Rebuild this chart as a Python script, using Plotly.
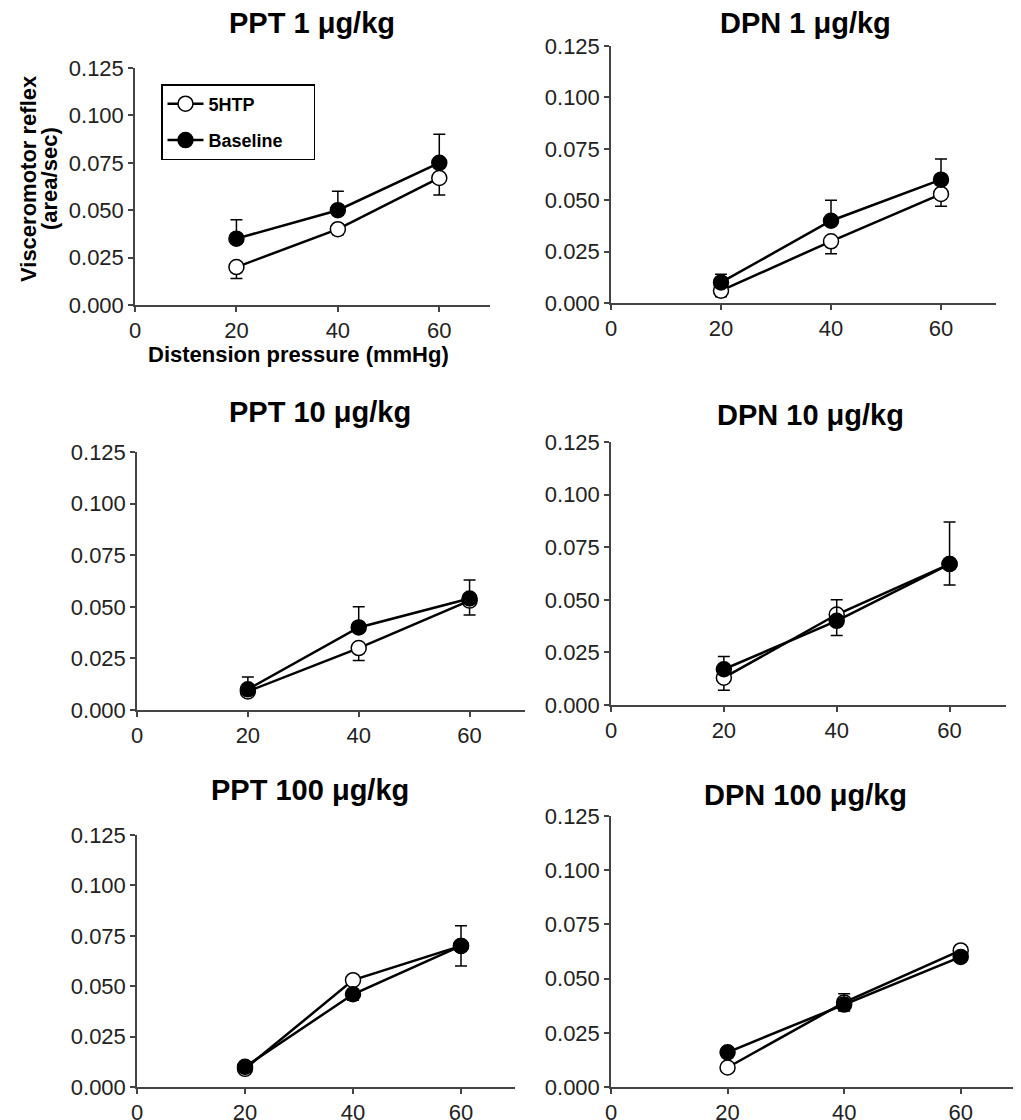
import plotly.graph_objects as go

# ---------------- data ----------------
pressure = [20, 40, 60]
series_names = ["5HTP", "Baseline"]
panel_titles = ["PPT 1 μg/kg", "DPN 1 μg/kg",
                "PPT 10 μg/kg", "DPN 10 μg/kg",
                "PPT 100 μg/kg", "DPN 100 μg/kg"]

# 5HTP (open circles, SEM drawn downward)
ppt1_5htp = [0.020, 0.040, 0.067]
ppt1_5htp_err = [0.006, 0.003, 0.009]
dpn1_5htp = [0.006, 0.030, 0.053]
dpn1_5htp_err = [0.003, 0.006, 0.006]
ppt10_5htp = [0.009, 0.030, 0.053]
ppt10_5htp_err = [0.002, 0.006, 0.007]
dpn10_5htp = [0.013, 0.043, 0.067]
dpn10_5htp_err = [0.006, 0.010, 0.010]
ppt100_5htp = [0.009, 0.053, 0.070]
ppt100_5htp_err = [0.002, 0.010, 0.010]
dpn100_5htp = [0.009, 0.039, 0.063]
dpn100_5htp_err = [0.002, 0.004, 0.002]

# Baseline (filled circles, SEM drawn upward)
ppt1_base = [0.035, 0.050, 0.075]
ppt1_base_err = [0.010, 0.010, 0.015]
dpn1_base = [0.010, 0.040, 0.060]
dpn1_base_err = [0.004, 0.010, 0.010]
ppt10_base = [0.010, 0.040, 0.054]
ppt10_base_err = [0.006, 0.010, 0.009]
dpn10_base = [0.017, 0.040, 0.067]
dpn10_base_err = [0.006, 0.010, 0.020]
ppt100_base = [0.010, 0.046, 0.070]
ppt100_base_err = [0.002, 0.002, 0.010]
dpn100_base = [0.016, 0.038, 0.060]
dpn100_base_err = [0.002, 0.005, 0.002]

y_tickvals = [0, 0.025, 0.05, 0.075, 0.1, 0.125]
y_ticktext = ["0.000", "0.025", "0.050", "0.075", "0.100", "0.125"]
x_tickvals = [0, 20, 40, 60]
x_ticktext = ["0", "20", "40", "60"]
y_title_lines = ["Visceromotor reflex", "(area/sec)"]
x_title = "Distension pressure (mmHg)"

open_series = [(ppt1_5htp, ppt1_5htp_err), (dpn1_5htp, dpn1_5htp_err),
               (ppt10_5htp, ppt10_5htp_err), (dpn10_5htp, dpn10_5htp_err),
               (ppt100_5htp, ppt100_5htp_err), (dpn100_5htp, dpn100_5htp_err)]
base_series = [(ppt1_base, ppt1_base_err), (dpn1_base, dpn1_base_err),
               (ppt10_base, ppt10_base_err), (dpn10_base, dpn10_base_err),
               (ppt100_base, ppt100_base_err), (dpn100_base, dpn100_base_err)]

# ---------------- layout (pixel boxes, page coordinates) ----------------
PAGE_OFFSET = 8                      # default body margin of the html page
W, H = 1021 - PAGE_OFFSET, 1120 - PAGE_OFFSET
FONT = "Liberation Sans, Arial, Helvetica, sans-serif"
# (left, right, top, bottom) in page pixels of each plot area
boxes = [(135, 490, 68, 305), (611, 996, 46, 303),
         (137, 525, 452, 710), (611, 1006, 442, 705),
         (137, 515, 835, 1087), (611, 1019, 816, 1087)]
title_pos = [(312, 23), (805, 23), (320, 412), (810, 415), (310, 790), (805, 795)]


def px(x):
    return min((x - PAGE_OFFSET) / W, 1.0)


def py(y):
    return 1 - (y - PAGE_OFFSET) / H


fig = go.Figure()
layout = dict(width=W, height=H, margin=dict(l=0, r=0, t=0, b=0, autoexpand=False),
              paper_bgcolor="white", plot_bgcolor="white",
              font=dict(family=FONT, color="#222"))
annotations = []

for i in range(6):
    sfx = "" if i == 0 else str(i + 1)
    xa, ya = "x" + sfx, "y" + sfx
    l, r, t, b = boxes[i]
    axis_style = dict(showline=True, linecolor="#444", linewidth=1.5,
                      ticks="outside", ticklen=5, tickwidth=1.5, tickcolor="#444",
                      showgrid=False, zeroline=False, automargin=False,
                      tickfont=dict(size=22, family=FONT, color="#222"))
    layout["xaxis" + sfx] = dict(domain=[px(l), px(r)], range=[0, 70], anchor=ya,
                                 tickvals=x_tickvals, ticktext=x_ticktext, **axis_style)
    layout["yaxis" + sfx] = dict(domain=[py(b), py(t)], range=[0, 0.125], anchor=xa,
                                 tickvals=y_tickvals, ticktext=y_ticktext, **axis_style)

    ov, oe = open_series[i]
    bv, be = base_series[i]
    fig.add_trace(go.Scatter(
        x=pressure, y=ov, xaxis=xa, yaxis=ya, mode="lines+markers",
        name=series_names[0] + "\u00a0" * 7, legendgroup="g0", showlegend=(i == 0),
        line=dict(color="black", width=2.5),
        marker=dict(symbol="circle", size=15, color="white",
                    line=dict(color="black", width=1.5)),
        error_y=dict(type="data", symmetric=False, array=[0, 0, 0], arrayminus=oe,
                     color="black", thickness=1.5, width=6),
        cliponaxis=False))
    fig.add_trace(go.Scatter(
        x=pressure, y=bv, xaxis=xa, yaxis=ya, mode="lines+markers",
        name=series_names[1] + "\u00a0" * 5, legendgroup="g1", showlegend=(i == 0),
        line=dict(color="black", width=2.5),
        marker=dict(symbol="circle", size=15, color="black",
                    line=dict(color="black", width=1.5)),
        error_y=dict(type="data", symmetric=False, array=be, arrayminus=[0, 0, 0],
                     color="black", thickness=1.5, width=6),
        cliponaxis=False))

    tx, ty = title_pos[i]
    annotations.append(dict(text=panel_titles[i], x=px(tx), y=py(ty),
                            xref="paper", yref="paper", xanchor="center", yanchor="middle",
                            showarrow=False,
                            font=dict(size=29, family=FONT, color="black", weight="bold")))

# axis titles (panel 1 only)
annotations.append(dict(text=y_title_lines[0], x=px(28), y=py(179), xref="paper", yref="paper",
                        xanchor="center", yanchor="middle", textangle=-90, showarrow=False,
                        font=dict(size=22, family=FONT, color="black", weight="bold")))
annotations.append(dict(text=y_title_lines[1], x=px(49), y=py(179), xref="paper", yref="paper",
                        xanchor="center", yanchor="middle", textangle=-90, showarrow=False,
                        font=dict(size=22, family=FONT, color="black", weight="bold")))
annotations.append(dict(text=x_title, x=px(298), y=py(354), xref="paper", yref="paper",
                        xanchor="center", yanchor="middle", showarrow=False,
                        font=dict(size=22, family=FONT, color="black", weight="bold")))

layout["annotations"] = annotations
layout["showlegend"] = True
layout["legend"] = dict(x=px(161), y=py(84), xanchor="left", yanchor="top",
                        bordercolor="black", borderwidth=1.5, bgcolor="white",
                        tracegroupgap=10, traceorder="grouped", itemwidth=36,
                        font=dict(size=18, family=FONT, color="black", weight="bold"))
fig.update_layout(**layout)
fig.write_html("out.html")
